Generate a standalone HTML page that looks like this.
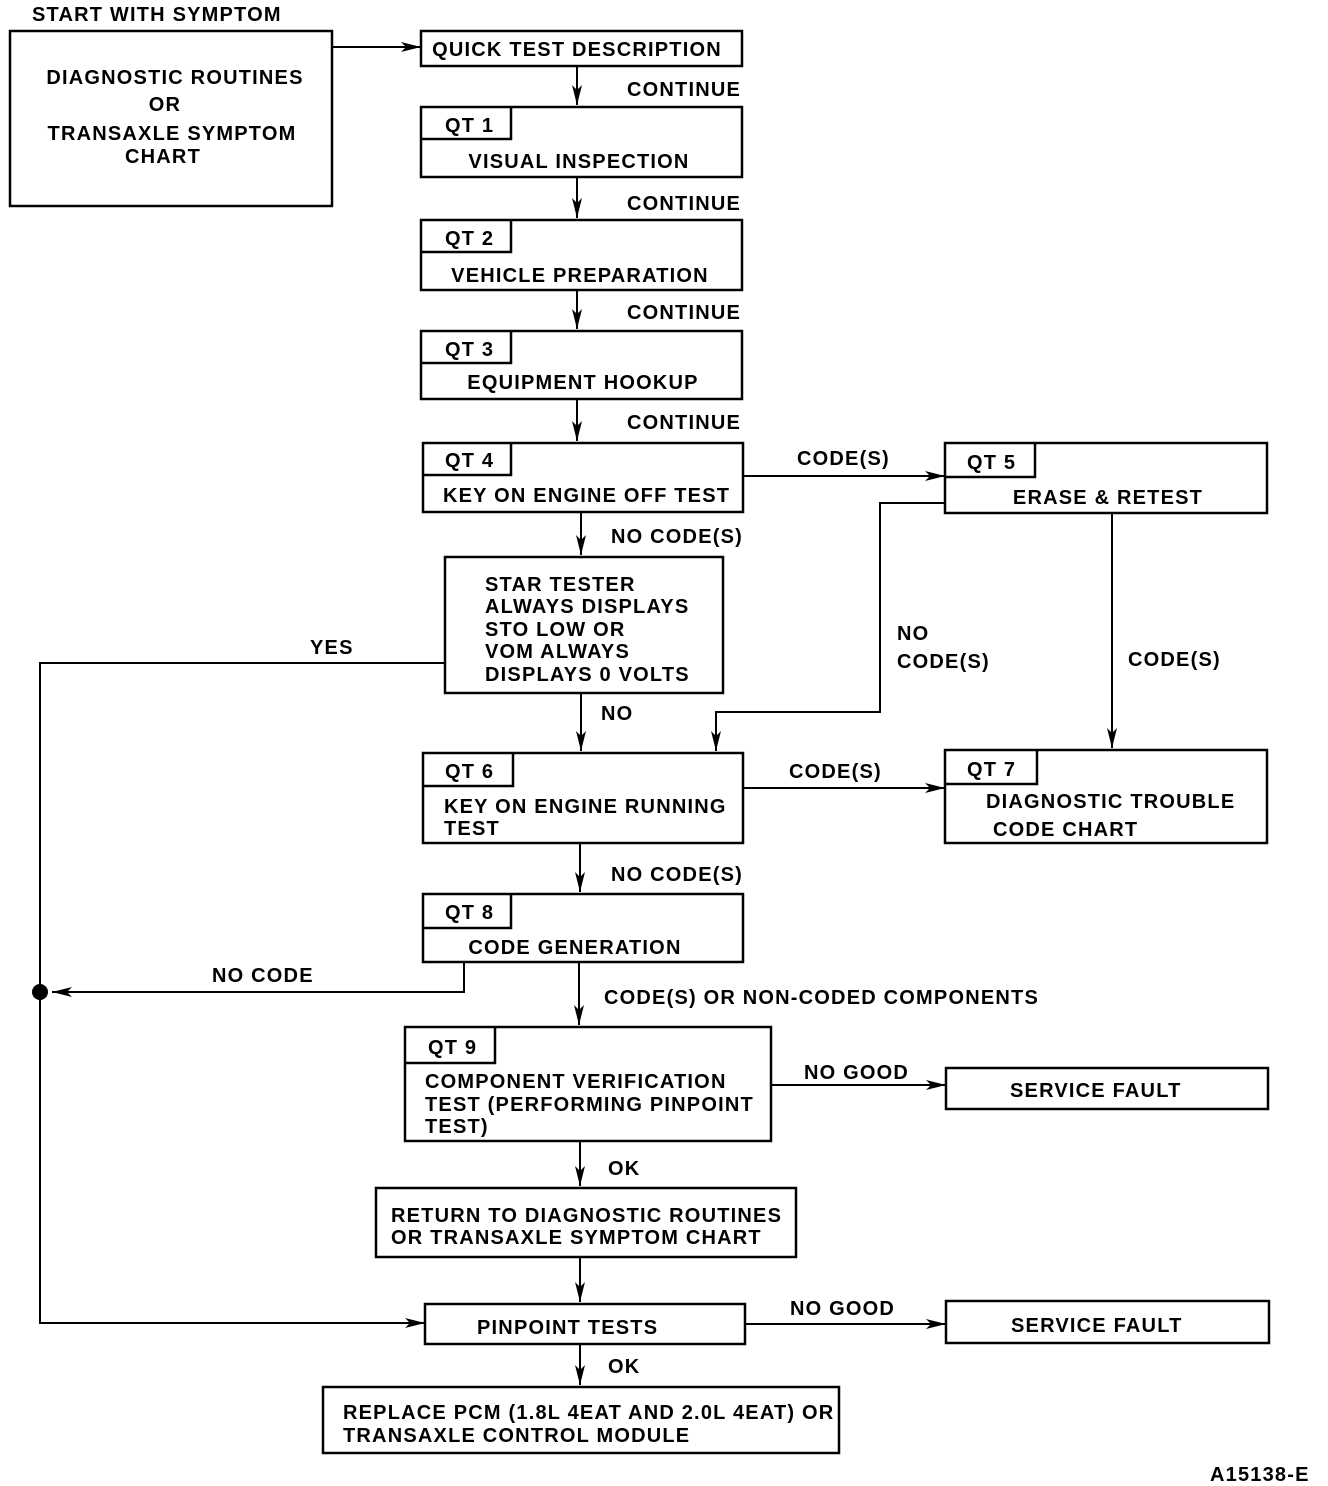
<!DOCTYPE html>
<html><head><meta charset="utf-8"><style>
html,body{margin:0;padding:0;background:#fff;}
svg{display:block;}
text{font-family:"Liberation Sans",Arial,sans-serif;font-size:20px;letter-spacing:1.2px;font-weight:bold;fill:#000;}
</style></head><body>
<svg width="1328" height="1486" viewBox="0 0 1328 1486" xmlns="http://www.w3.org/2000/svg">
<defs>
<marker id="a" viewBox="0 0 20 10" refX="20" refY="5" markerWidth="20" markerHeight="10" markerUnits="userSpaceOnUse" orient="auto">
<path d="M0,0 L20,5 L0,10 L5,5 Z" fill="#000"/>
</marker>
</defs>
<g fill="none" stroke="#000" stroke-width="2.5">
<rect x="10" y="31" width="322" height="175"/>
<rect x="421" y="31" width="321" height="35"/>
<rect x="421" y="107" width="321" height="70"/><path d="M421,139 H511 V107"/>
<rect x="421" y="220" width="321" height="70"/><path d="M421,252 H511 V220"/>
<rect x="421" y="331" width="321" height="68"/><path d="M421,363 H511 V331"/>
<rect x="423" y="443" width="320" height="69"/><path d="M423,475 H511 V443"/>
<rect x="945" y="443" width="322" height="70"/><path d="M945,477 H1035 V443"/>
<rect x="445" y="557" width="278" height="136"/>
<rect x="423" y="753" width="320" height="90"/><path d="M423,786 H513 V753"/>
<rect x="945" y="750" width="322" height="93"/><path d="M945,784 H1037 V750"/>
<rect x="423" y="894" width="320" height="68"/><path d="M423,928 H511 V894"/>
<rect x="405" y="1027" width="366" height="114"/><path d="M405,1063 H495 V1027"/>
<rect x="946" y="1068" width="322" height="41"/>
<rect x="376" y="1188" width="420" height="69"/>
<rect x="425" y="1304" width="320" height="40"/>
<rect x="946" y="1301" width="323" height="42"/>
<rect x="323" y="1387" width="516" height="66"/>
</g>
<g fill="none" stroke="#000" stroke-width="2" marker-end="url(#a)">
<path d="M332,47 H421"/>
<path d="M577,66 V105"/>
<path d="M577,177 V218"/>
<path d="M577,290 V329"/>
<path d="M577,399 V441"/>
<path d="M743,476 H945"/>
<path d="M945,503 H880 V712 H716 V751"/>
<path d="M1112,513 V748"/>
<path d="M581,512 V555"/>
<path d="M445,663 H40 V1323 H425"/>
<path d="M581,693 V751"/>
<path d="M743,788 H945"/>
<path d="M580,843 V892"/>
<path d="M464,962 V992 H52"/>
<path d="M579,962 V1025"/>
<path d="M771,1085 H946"/>
<path d="M580,1141 V1186"/>
<path d="M580,1257 V1302"/>
<path d="M745,1324 H946"/>
<path d="M580,1344 V1385"/>
</g>
<circle cx="40" cy="992" r="8" fill="#000"/>
<text x="32" y="21">START WITH SYMPTOM</text>
<text x="175" y="84" text-anchor="middle">DIAGNOSTIC ROUTINES</text>
<text x="165" y="111" text-anchor="middle">OR</text>
<text x="172" y="140" text-anchor="middle">TRANSAXLE SYMPTOM</text>
<text x="163" y="163" text-anchor="middle">CHART</text>
<text x="577" y="56" text-anchor="middle">QUICK TEST DESCRIPTION</text>
<text x="627" y="96">CONTINUE</text>
<text x="627" y="210">CONTINUE</text>
<text x="627" y="319">CONTINUE</text>
<text x="627" y="429">CONTINUE</text>
<text x="445" y="132">QT 1</text>
<text x="579" y="168" text-anchor="middle">VISUAL INSPECTION</text>
<text x="445" y="245">QT 2</text>
<text x="580" y="282" text-anchor="middle">VEHICLE PREPARATION</text>
<text x="445" y="356">QT 3</text>
<text x="583" y="389" text-anchor="middle">EQUIPMENT HOOKUP</text>
<text x="445" y="467">QT 4</text>
<text x="443" y="502">KEY ON ENGINE OFF TEST</text>
<text x="797" y="465">CODE(S)</text>
<text x="967" y="469">QT 5</text>
<text x="1108" y="504" text-anchor="middle">ERASE &amp; RETEST</text>
<text x="611" y="543">NO CODE(S)</text>
<text x="485" y="591">STAR TESTER</text>
<text x="485" y="613">ALWAYS DISPLAYS</text>
<text x="485" y="636">STO LOW OR</text>
<text x="485" y="658">VOM ALWAYS</text>
<text x="485" y="681">DISPLAYS 0 VOLTS</text>
<text x="310" y="654">YES</text>
<text x="897" y="640">NO</text>
<text x="897" y="668">CODE(S)</text>
<text x="1128" y="666">CODE(S)</text>
<text x="601" y="720">NO</text>
<text x="445" y="778">QT 6</text>
<text x="444" y="813">KEY ON ENGINE RUNNING</text>
<text x="444" y="835">TEST</text>
<text x="789" y="778">CODE(S)</text>
<text x="967" y="776">QT 7</text>
<text x="986" y="808">DIAGNOSTIC TROUBLE</text>
<text x="993" y="836">CODE CHART</text>
<text x="611" y="881">NO CODE(S)</text>
<text x="445" y="919">QT 8</text>
<text x="575" y="954" text-anchor="middle">CODE GENERATION</text>
<text x="212" y="982">NO CODE</text>
<text x="604" y="1004">CODE(S) OR NON-CODED COMPONENTS</text>
<text x="428" y="1054">QT 9</text>
<text x="425" y="1088">COMPONENT VERIFICATION</text>
<text x="425" y="1111">TEST (PERFORMING PINPOINT</text>
<text x="425" y="1133">TEST)</text>
<text x="804" y="1079">NO GOOD</text>
<text x="1010" y="1097">SERVICE FAULT</text>
<text x="608" y="1175">OK</text>
<text x="391" y="1222">RETURN TO DIAGNOSTIC ROUTINES</text>
<text x="391" y="1244">OR TRANSAXLE SYMPTOM CHART</text>
<text x="477" y="1334">PINPOINT TESTS</text>
<text x="790" y="1315">NO GOOD</text>
<text x="1011" y="1332">SERVICE FAULT</text>
<text x="608" y="1373">OK</text>
<text x="343" y="1419">REPLACE PCM (1.8L 4EAT AND 2.0L 4EAT) OR</text>
<text x="343" y="1442">TRANSAXLE CONTROL MODULE</text>
<text x="1210" y="1481">A15138-E</text>
</svg>
</body></html>
